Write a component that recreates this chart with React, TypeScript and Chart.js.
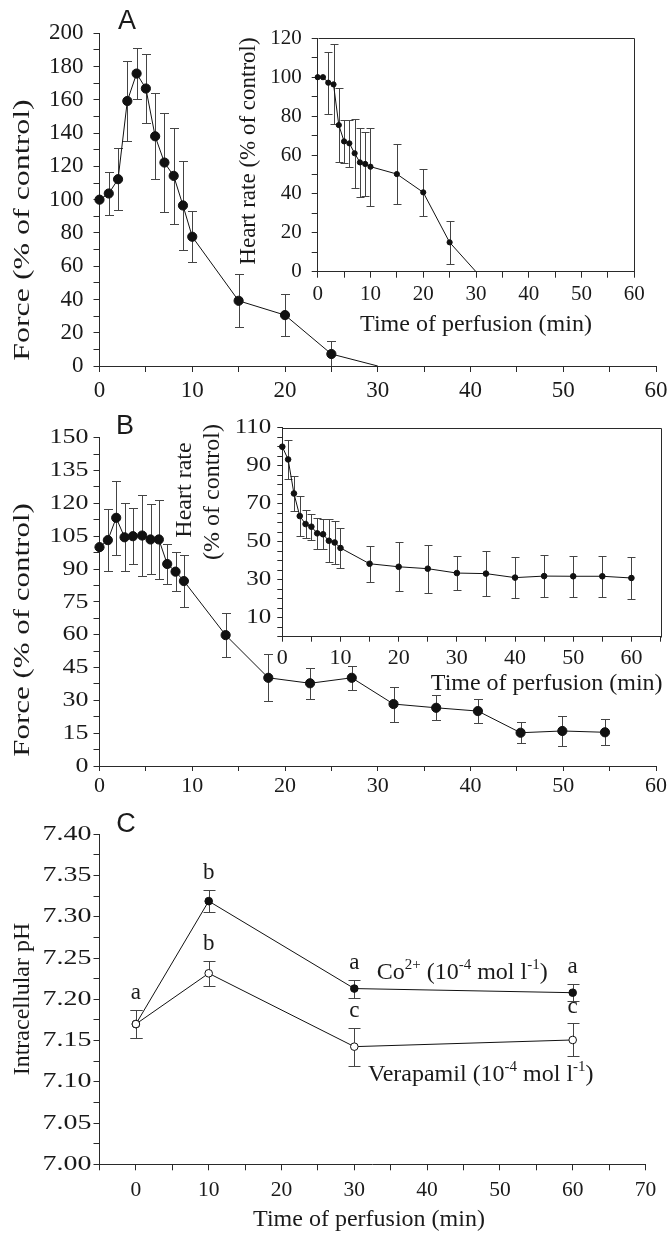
import React, { useEffect, useRef } from 'react';
import { Chart, registerables } from 'chart.js';

Chart.register(...registerables);

const PAGE_W = 668;
const PAGE_H = 1235;
const SERIF = '"Liberation Serif", "Times New Roman", Times, serif';
const SANS = '"Liberation Sans", Arial, sans-serif';
const INK = '#111111';
const AXIS = '#2a2a2a';
const BAR = '#444444';
const TXT = '#1a1a1a';

// ---------- Panel A: force ----------
const A_TIME = [0, 1, 2, 3, 4, 5, 6, 7, 8, 9, 10, 15, 20, 25, 30];
const A_FORCE = [100, 103.7, 112.3, 159.3, 175.8, 166.8, 138.1, 122.3, 114.3, 96.5, 77.7, 39.2, 30.6, 7.2, 0];
const A_FORCE_ERR = [0, 12.7, 18.8, 24, 15.4, 21, 25.8, 30, 28.7, 27, 15.4, 16, 12.5, 8, 0];

// ---------- Panel A inset: heart rate ----------
const AI_TIME = [0, 1, 2, 3, 4, 5, 6, 7, 8, 9, 10, 15, 20, 25, 30];
const AI_HR = [100, 100, 97.2, 96.3, 75.4, 67, 66, 60.9, 56.2, 55.4, 54, 50.2, 40.8, 15.1, 0];
const AI_HR_ERR = [0, 0, 16, 20.6, 19, 11, 12, 17.7, 17.7, 16.5, 20, 15.4, 12, 11, 0];

// ---------- Panel B: force ----------
const B_TIME = [0, 0.9, 1.8, 2.7, 3.6, 4.6, 5.5, 6.4, 7.3, 8.2, 9.1, 13.6, 18.2, 22.7, 27.2, 31.7, 36.3, 40.8, 45.4, 49.9, 54.5];
const B_FORCE = [100, 103.2, 113.4, 104.5, 105, 105.3, 103.5, 103.5, 92.3, 88.8, 84.5, 59.8, 40.3, 37.8, 40.3, 28.3, 26.6, 25.1, 15.2, 16, 15.4];
const B_FORCE_ERR = [0, 14, 17, 15.5, 12.7, 18.7, 16, 18, 9, 8.8, 12, 10, 10.7, 7, 5.5, 8, 5.7, 5.5, 4.9, 7, 6];

// ---------- Panel B inset: heart rate ----------
const BI_TIME = [0, 1, 2, 3, 4, 5, 6, 7, 8, 9, 10, 15, 20, 25, 30, 35, 40, 45, 50, 55, 60];
const BI_HR = [100, 93.3, 75.4, 63.5, 59.3, 57.9, 54.4, 53.9, 50.5, 49.6, 46.7, 38.4, 36.8, 35.8, 33.5, 33.2, 31.1, 31.9, 31.8, 31.8, 30.9];
const BI_HR_ERR = [0, 10.3, 9, 10.6, 7.2, 6.9, 8, 8, 11.3, 11.3, 10.6, 9.5, 12.8, 12.6, 8.8, 11.8, 10.9, 11, 10.9, 10.9, 10.9];

// ---------- Panel C: intracellular pH ----------
const C_TIME = [0, 10, 30, 60];
const C_CO = [7.17, 7.319, 7.213, 7.208];
const C_CO_ERR = [0.017, 0.013, 0.011, 0.01];
const C_CO_LETTERS = ['a', 'b', 'a', 'a'];
const C_VER = [7.17, 7.2315, 7.1426, 7.1507];
const C_VER_ERR = [0.017, 0.015, 0.023, 0.02];
const C_VER_LETTERS = ['', 'b', 'c', 'c'];

// ---------- tick positions ----------
const range = (a: number, b: number, s: number) => {
  const out: number[] = [];
  const n = Math.round((b - a) / s);
  for (let i = 0; i <= n; i++) out.push(+(a + i * s).toFixed(4));
  return out;
};
const A_Y_TICKS = range(0, 200, 10);
const A_X_TICKS = range(0, 60, 5);
const AI_Y_TICKS = range(0, 120, 10);
const AI_X_TICKS = range(0, 60, 5);
const B_Y_TICKS = range(0, 150, 7.5);
const B_X_TICKS = range(0, 60, 5);
const BI_Y_TICKS = range(0, 110, 5);
const BI_X_TICKS = range(0, 65, 5);
const C_Y_TICKS = range(7.0, 7.4, 0.025);
const C_X_TICKS = range(-5, 70, 5);

const AXIS_W = 60;
const AXIS_H = 40;

type Part = { t: string; sup?: boolean };
type TextItem = {
  x: number; y: number; text: string | Part[]; size?: number; family?: string;
  align?: 'left' | 'center' | 'right'; rotate?: boolean; sx?: number;
};

function drawText(ctx: CanvasRenderingContext2D, it: TextItem) {
  const size = it.size ?? 24;
  const fam = it.family ?? SERIF;
  const parts: Part[] = typeof it.text === 'string' ? [{ t: it.text }] : it.text;
  const supSize = Math.round(size * 0.64);
  const fontOf = (p: Part) => `${p.sup ? supSize : size}px ${fam}`;
  let total = 0;
  const widths = parts.map((p) => {
    ctx.font = fontOf(p);
    const w = ctx.measureText(p.t).width;
    total += w;
    return w;
  });
  ctx.save();
  ctx.translate(it.x, it.y);
  if (it.rotate) ctx.rotate(-Math.PI / 2);
  if (it.sx) ctx.scale(it.sx, 1);
  ctx.fillStyle = TXT;
  ctx.textBaseline = 'middle';
  ctx.textAlign = 'left';
  let x = it.align === 'left' ? 0 : it.align === 'right' ? -total : -total / 2;
  parts.forEach((p, i) => {
    ctx.font = fontOf(p);
    ctx.fillText(p.t, x, p.sup ? -size * 0.32 : 0);
    x += widths[i];
  });
  ctx.restore();
}

function axis(
  kind: 'x' | 'y', min: number, max: number, ticks: number[],
  label: (v: number) => string, tl: number, pad: number, size = 23, showLabels = true,
) {
  return {
    type: 'linear',
    position: kind === 'x' ? 'bottom' : 'left',
    min,
    max,
    afterBuildTicks: (s: any) => {
      s.ticks = ticks.map((v) => ({ value: v }));
    },
    afterFit: (s: any) => {
      if (kind === 'x') {
        s.height = AXIS_H;
        s.paddingLeft = 0;
        s.paddingRight = 0;
      } else {
        s.width = AXIS_W;
        s.paddingTop = 0;
        s.paddingBottom = 0;
      }
    },
    ticks: {
      display: showLabels,
      callback: (v: any) => label(Number(v)),
      font: { family: SERIF, size },
      color: TXT,
      padding: pad,
      maxRotation: 0,
      minRotation: 0,
      autoSkip: false,
    },
    grid: { drawOnChartArea: false, drawTicks: true, tickLength: tl, color: AXIS, lineWidth: 1 },
    border: { display: true, color: AXIS, width: 1 },
  };
}

// y tick labels drawn from the library's y scale, with a horizontal stretch
const yLabelPlugin = (ticks: number[], label: (v: number) => string, size: number, sx: number, gap: number) => ({
  id: 'yLabels',
  afterDraw(chart: any) {
    const ys = chart.scales.y;
    const x0 = chart.chartArea.left - gap;
    ticks.forEach((v) => {
      const s = label(v);
      if (!s) return;
      drawText(chart.ctx, { x: x0, y: ys.getPixelForValue(v), text: s, size, sx, align: 'right' });
    });
  },
});

function series(xs: number[], ys: number[], errs: number[] | null, r: number | ((c: any) => number), fill = INK, letters?: string[]) {
  return {
    data: xs.map((x, i) => ({ x, y: ys[i] })),
    errs,
    letters,
    borderColor: INK,
    borderWidth: 1,
    tension: 0,
    fill: false,
    clip: false,
    pointRadius: r,
    pointHoverRadius: r,
    pointBackgroundColor: fill,
    pointBorderColor: INK,
    pointBorderWidth: 1,
  };
}

const errorBarPlugin = (cap: number) => ({
  id: 'errBars',
  beforeDatasetsDraw(chart: any) {
    const { ctx, chartArea: a } = chart;
    const xs = chart.scales.x;
    const ys = chart.scales.y;
    ctx.save();
    ctx.beginPath();
    ctx.rect(a.left - 30, a.top - 30, a.right - a.left + 60, a.bottom - a.top + 30);
    ctx.clip();
    ctx.strokeStyle = BAR;
    ctx.lineWidth = 1;
    chart.data.datasets.forEach((ds: any) => {
      if (!ds.errs) return;
      ds.data.forEach((p: any, i: number) => {
        const e = ds.errs[i];
        if (!e) return;
        const x = Math.round(xs.getPixelForValue(p.x)) + 0.5;
        const yt = Math.round(ys.getPixelForValue(p.y + e)) + 0.5;
        const yb = Math.round(ys.getPixelForValue(p.y - e)) + 0.5;
        ctx.beginPath();
        ctx.moveTo(x, yt);
        ctx.lineTo(x, yb);
        ctx.moveTo(x - cap, yt);
        ctx.lineTo(x + cap, yt);
        ctx.moveTo(x - cap, yb);
        ctx.lineTo(x + cap, yb);
        ctx.stroke();
      });
    });
    ctx.restore();
  },
});

const framePlugin = {
  id: 'frame',
  afterDraw(chart: any) {
    const { ctx, chartArea: a } = chart;
    ctx.save();
    ctx.strokeStyle = AXIS;
    ctx.lineWidth = 1;
    ctx.beginPath();
    ctx.moveTo(Math.round(a.left) + 0.5, Math.round(a.top) + 0.5);
    ctx.lineTo(Math.round(a.right) + 0.5, Math.round(a.top) + 0.5);
    ctx.lineTo(Math.round(a.right) + 0.5, Math.round(a.bottom) + 0.5);
    ctx.stroke();
    ctx.restore();
  },
};

const textPlugin = (items: TextItem[]) => ({
  id: 'texts',
  afterDraw(chart: any) {
    items.forEach((it) => drawText(chart.ctx, it));
  },
});

const letterPlugin = {
  id: 'letters',
  afterDatasetsDraw(chart: any) {
    const xs = chart.scales.x;
    const ys = chart.scales.y;
    chart.data.datasets.forEach((ds: any) => {
      if (!ds.letters) return;
      ds.data.forEach((p: any, i: number) => {
        const l = ds.letters[i];
        if (!l) return;
        const e = ds.errs ? ds.errs[i] : 0;
        drawText(chart.ctx, {
          x: xs.getPixelForValue(p.x),
          y: ys.getPixelForValue(p.y + e) - 17,
          text: l,
          size: 23,
        });
      });
    });
  },
};

type Area = { l: number; t: number; r: number; b: number };

function makeChart(canvas: HTMLCanvasElement, area: Area, xAxis: any, yAxis: any, datasets: any[], plugins: any[]) {
  return new Chart(canvas, {
    type: 'line',
    data: { datasets },
    options: {
      responsive: false,
      maintainAspectRatio: false,
      animation: false,
      devicePixelRatio: 1,
      events: [],
      layout: {
        padding: {
          left: area.l - AXIS_W,
          top: area.t,
          right: PAGE_W - area.r,
          bottom: PAGE_H - area.b - AXIS_H,
        },
      },
      plugins: { legend: { display: false }, tooltip: { enabled: false } },
      scales: { x: xAxis, y: yAxis },
    } as any,
    plugins,
  } as any);
}

const every = (n: number) => (v: number) => (Math.abs(v % n) < 1e-6 ? String(v) : '');
const biY = (v: number) => (v % 20 === 10 ? String(v) : '');
const cY = (v: number) => (Math.round(v * 1000) % 50 === 0 ? v.toFixed(2) : '');

export default function App() {
  const refs = [useRef<HTMLCanvasElement>(null), useRef<HTMLCanvasElement>(null), useRef<HTMLCanvasElement>(null), useRef<HTMLCanvasElement>(null), useRef<HTMLCanvasElement>(null)];

  useEffect(() => {
    const charts: Chart[] = [];
    const [c1, c2, c3, c4, c5] = refs.map((r) => r.current!);

    // Panel A main
    const aLast = A_TIME.length - 1;
    charts.push(
      makeChart(
        c1,
        { l: 99.5, t: 33.3, r: 656, b: 366 },
        axis('x', 0, 60, A_X_TICKS, every(10), 6, 5, 23),
        axis('y', 0, 200, A_Y_TICKS, every(20), 6, 10, 23),
        [series(A_TIME, A_FORCE, A_FORCE_ERR, (c: any) => (c.dataIndex === aLast ? 0 : 4.6))],
        [
          errorBarPlugin(4.5),
          textPlugin([
            { x: 127, y: 22, text: 'A', family: SANS, size: 27 },
            { x: 22.5, y: 230, text: 'Force (% of control)', rotate: true, size: 24, sx: 1.33 },
          ]),
        ],
      ),
    );

    // Panel A inset
    const aiLast = AI_TIME.length - 1;
    charts.push(
      makeChart(
        c2,
        { l: 317.7, t: 38.3, r: 634.3, b: 271.7 },
        axis('x', 0, 60, AI_X_TICKS, every(10), 6, 4, 21),
        axis('y', 0, 120, AI_Y_TICKS, every(20), 6, 10, 21),
        [series(AI_TIME, AI_HR, AI_HR_ERR, (c: any) => (c.dataIndex === aiLast ? 0 : 2.6))],
        [
          errorBarPlugin(4),
          framePlugin,
          textPlugin([
            { x: 249, y: 151, text: 'Heart rate (% of control)', rotate: true, size: 23 },
            { x: 476, y: 325, text: 'Time of perfusion (min)', size: 24 },
          ]),
        ],
      ),
    );

    // Panel B main
    charts.push(
      makeChart(
        c3,
        { l: 99.5, t: 437.7, r: 656, b: 766 },
        axis('x', 0, 60, B_X_TICKS, every(10), 5, 2, 22),
        axis('y', 0, 150, B_Y_TICKS, every(15), 6, 5, 22, false),
        [series(B_TIME, B_FORCE, B_FORCE_ERR, 4.6)],
        [
          errorBarPlugin(4.5),
          yLabelPlugin(B_Y_TICKS, every(15), 22, 1.18, 11),
          textPlugin([
            { x: 125, y: 427, text: 'B', family: SANS, size: 27 },
            { x: 22.5, y: 630, text: 'Force (% of control)', rotate: true, size: 24, sx: 1.29 },
          ]),
        ],
      ),
    );

    // Panel B inset
    charts.push(
      makeChart(
        c4,
        { l: 282.3, t: 427.7, r: 660.5, b: 636.7 },
        axis('x', 0, 65, BI_X_TICKS, (v) => (v % 10 === 0 && v <= 60 ? String(v) : ''), 5, 3, 22),
        axis('y', 0, 110, BI_Y_TICKS, biY, 5, 4, 21, false),
        [series(BI_TIME, BI_HR, BI_HR_ERR, 2.8)],
        [
          errorBarPlugin(4),
          framePlugin,
          yLabelPlugin(BI_Y_TICKS, biY, 20.5, 1.22, 11),
          textPlugin([
            { x: 185, y: 490, text: 'Heart rate', rotate: true, size: 24 },
            { x: 213, y: 492, text: '(% of control)', rotate: true, size: 24 },
            { x: 546.7, y: 683.3, text: 'Time of perfusion (min)', size: 24 },
          ]),
        ],
      ),
    );

    // Panel C
    charts.push(
      makeChart(
        c5,
        { l: 99.5, t: 834.3, r: 645.5, b: 1164.3 },
        axis('x', -5, 70, C_X_TICKS, (v) => (v >= 0 && v % 10 === 0 ? String(v) : ''), 6, 7, 21.5),
        axis('y', 7.0, 7.4, C_Y_TICKS, cY, 6, 2, 21, false),
        [
          series(C_TIME, C_VER, C_VER_ERR, 3.8, '#ffffff', C_VER_LETTERS),
          series(C_TIME, C_CO, C_CO_ERR, 3.8, INK, C_CO_LETTERS),
        ],
        [
          errorBarPlugin(6),
          letterPlugin,
          yLabelPlugin(C_Y_TICKS, cY, 21.5, 1.3, 8),
          textPlugin([
            { x: 126, y: 825, text: 'C', family: SANS, size: 27 },
            { x: 22.5, y: 999, text: 'Intracellular pH', rotate: true, size: 24 },
            { x: 369, y: 1220, text: 'Time of perfusion (min)', size: 24 },
            {
              x: 376.7, y: 973, align: 'left', size: 24,
              text: [{ t: 'Co' }, { t: '2+', sup: true }, { t: ' (10' }, { t: '-4', sup: true }, { t: ' mol l' }, { t: '-1', sup: true }, { t: ')' }],
            },
            {
              x: 368, y: 1075, align: 'left', size: 24,
              text: [{ t: 'Verapamil (10' }, { t: '-4', sup: true }, { t: ' mol l' }, { t: '-1', sup: true }, { t: ')' }],
            },
          ]),
        ],
      ),
    );

    return () => charts.forEach((c) => c.destroy());
  }, []);

  const style: React.CSSProperties = { position: 'absolute', left: 0, top: 0, width: PAGE_W, height: PAGE_H };
  return (
    <div style={{ position: 'absolute', left: 0, top: 0, width: PAGE_W, height: PAGE_H, background: '#ffffff' }}>
      {refs.map((r, i) => (
        <canvas key={i} ref={r} width={PAGE_W} height={PAGE_H} style={style} />
      ))}
    </div>
  );
}
